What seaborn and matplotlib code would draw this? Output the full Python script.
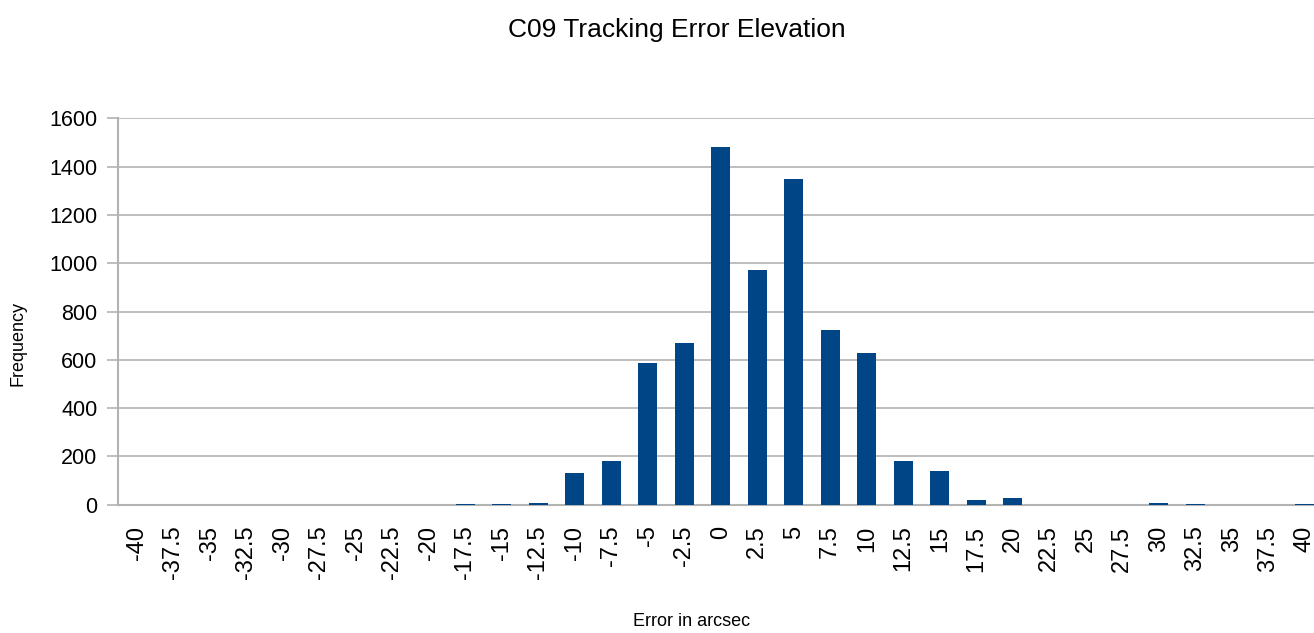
import numpy as np
import matplotlib
matplotlib.use("Agg")
import matplotlib.pyplot as plt
import seaborn as sns
import pandas as pd

# Data
bins = ["-40", "-37.5", "-35", "-32.5", "-30", "-27.5", "-25", "-22.5", "-20",
        "-17.5", "-15", "-12.5", "-10", "-7.5", "-5", "-2.5", "0", "2.5", "5",
        "7.5", "10", "12.5", "15", "17.5", "20", "22.5", "25", "27.5", "30",
        "32.5", "35", "37.5", "40"]
frequency = [0, 0, 0, 0, 0, 0, 0, 0, 0,
             4, 4, 8, 130, 180, 585, 668, 1482, 973, 1350,
             724, 630, 180, 140, 20, 28, 0, 0, 0, 7,
             3, 0, 0, 3]
y_ticks = [0, 200, 400, 600, 800, 1000, 1200, 1400, 1600]

df = pd.DataFrame({"bin": bins, "freq": frequency})

sns.set_style("white")
plt.rcParams['font.family'] = ['Liberation Sans', 'DejaVu Sans']
plt.rcParams['text.color'] = 'black'
plt.rcParams['xtick.labelcolor'] = 'black'
plt.rcParams['ytick.labelcolor'] = 'black'

W, H = 1314, 633
fig = plt.figure(figsize=(W / 100, H / 100), dpi=100)
cat_w = 36.51
ax = fig.add_axes([118.3 / W, 1 - 504.7 / H, 33 * cat_w / W, 386.4 / H])

sns.barplot(data=df, x="bin", y="freq", order=bins, color="#004586",
            saturation=1, width=0.52, ax=ax, linewidth=0, zorder=3)

ax.set_xlim(-0.5, len(bins) - 0.5)
ax.set_ylim(0, 1600)
ax.set_yticks(y_ticks)
ax.set_yticklabels([str(v) for v in y_ticks], fontsize=15.5)
ax.yaxis.grid(True, color="#b3b3b3", linewidth=1.2, zorder=0)
ax.set_axisbelow(True)

ax.set_xticks(range(len(bins)))
ax.set_xticklabels(bins, rotation=90, fontsize=17, va="top", ha="center")
ax.set_xticks(np.arange(-0.5, len(bins), 1), minor=True)
ax.tick_params(axis="x", which="major", length=0, pad=15)
ax.tick_params(axis="x", which="minor", length=11, width=1.2, color="#b3b3b3")
ax.tick_params(axis="y", length=8, width=1.2, color="#b3b3b3", pad=7, left=True)

for s in ["top", "right"]:
    ax.spines[s].set_visible(False)
for s in ["left", "bottom"]:
    ax.spines[s].set_color("#b3b3b3")
    ax.spines[s].set_linewidth(1.5)

ax.set_xlabel("")
ax.set_ylabel("")

fig.text(677 / W, 1 - 30 / H, "C09 Tracking Error Elevation", ha="center",
         va="center", fontsize=19)
fig.text(692 / W, 1 - 621 / H, "Error in arcsec", ha="center", va="center",
         fontsize=13)
fig.text(18 / W, 1 - 343 / H, "Frequency", ha="center", va="center",
         rotation=90, fontsize=13)

fig.savefig("out.png", dpi=100)
